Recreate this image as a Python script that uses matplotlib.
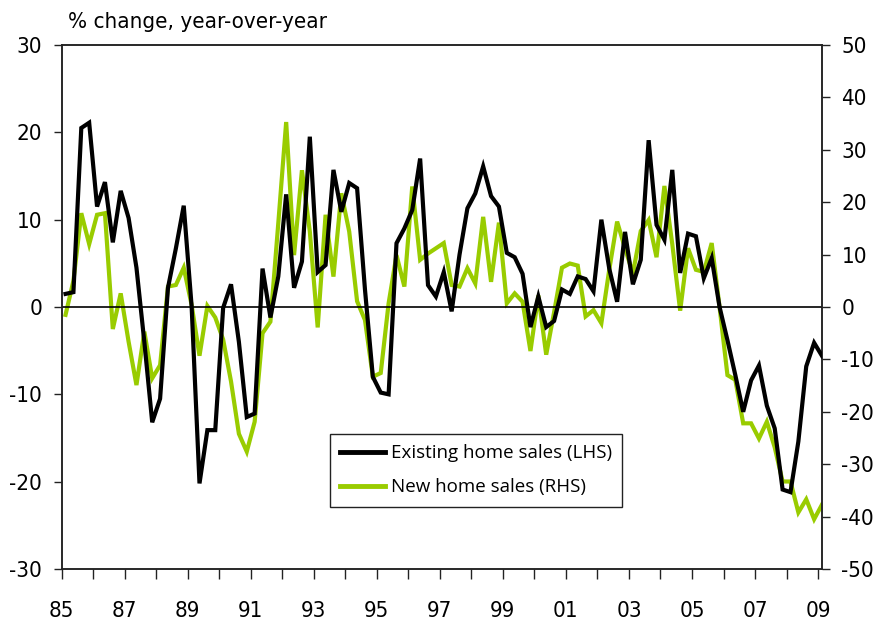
import matplotlib
matplotlib.use("Agg")
import matplotlib.pyplot as plt
import numpy as np

# ---------------- data (quarterly, 1985Q1 .. 2009Q1) ----------------
start_year = 1985
existing_sales = [
    1.5, 1.7, 20.5, 21.1, 11.5, 14.3, 7.4, 13.3, 10.2, 4.5,
    -4.0, -13.2, -10.5, 2.2, 6.7, 11.6, 0.1, -20.2, -14.1, -14.1,
    -0.1, 2.6, -4.0, -12.6, -12.2, 4.4, -1.2, 3.5, 12.9, 2.2,
    5.2, 19.5, 4.0, 4.8, 15.7, 10.9, 14.2, 13.6, 2.0, -8.0,
    -9.8, -10.0, 7.3, 9.0, 11.1, 17.0, 2.5, 1.2, 4.0, -0.5,
    6.0, 11.3, 13.0, 16.1, 12.7, 11.5, 6.2, 5.7, 3.8, -2.3,
    1.2, -2.3, -1.6, 2.0, 1.5, 3.5, 3.2, 1.8, 10.0, 4.4,
    0.6, 8.6, 2.6, 5.4, 19.1, 9.4, 7.7, 15.7, 3.9, 8.4,
    8.1, 3.3, 5.6, 0.0, -3.8, -7.8, -12.0, -8.4, -6.7, -11.3,
    -13.9, -20.9, -21.2, -15.4, -6.8, -4.1, -5.6,
]
new_sales = [
    -1.5, 5.0, 17.9, 12.0, 17.6, 17.9, -4.2, 2.6, -6.6, -14.9,
    -4.7, -13.6, -11.1, 3.9, 4.2, 7.5, 0.4, -9.3, 0.2, -2.0,
    -6.2, -14.2, -24.2, -27.6, -21.9, -5.0, -2.8, 16.0, 35.3, 9.9,
    26.1, 14.4, -3.9, 17.6, 5.8, 21.7, 14.4, 1.1, -2.5, -13.3,
    -12.6, 0.7, 9.9, 3.9, 23.0, 9.0, 10.2, 11.2, 12.2, 4.2,
    3.9, 7.4, 4.5, 17.2, 4.8, 16.1, 0.7, 2.6, 1.0, -8.4,
    2.2, -9.1, -1.0, 7.5, 8.3, 7.9, -1.8, -0.6, -3.1, 7.1,
    16.3, 11.2, 6.4, 14.5, 16.6, 9.5, 23.1, 12.0, -0.7, 11.2,
    7.1, 6.7, 12.2, 0.0, -13.0, -13.9, -22.2, -22.2, -25.1, -21.9,
    -26.8, -33.3, -33.3, -39.2, -36.7, -40.5, -37.7,
]
year_ticks = list(range(1985, 2010))
year_labels = ["85", "87", "89", "91", "93", "95", "97", "99",
               "01", "03", "05", "07", "09"]
left_ticks = [-30, -20, -10, 0, 10, 20, 30]
right_ticks = [-50, -40, -30, -20, -10, 0, 10, 20, 30, 40, 50]
series_names = ["Existing home sales (LHS)", "New home sales (RHS)"]
unit_label = "% change, year-over-year"

# ---------------- fonts ----------------
NUM_FAMILY = ["DejaVu Sans"]
NUM_STRETCH = "condensed"
leg_font = ["Open Sans", "DejaVu Sans"]

BLACK = "#000000"
GREEN = "#99CC00"

t = start_year + (np.arange(len(existing_sales)) + 0.5) / 4.0

fig = plt.figure(figsize=(8.73, 6.26), dpi=100)
W, H = 873, 626
ax_l, ax_r, ax_t, ax_b = 61.6, 822, 45, 569
ax = fig.add_axes([ax_l / W, 1 - ax_b / H, (ax_r - ax_l) / W, (ax_b - ax_t) / H])
ax2 = ax.twinx()

ax.axhline(0, color=BLACK, lw=1.2, zorder=1)
l1, = ax.plot(t, existing_sales, color=BLACK, lw=3.0, solid_joinstyle="miter", zorder=3)
l2, = ax2.plot(t, new_sales, color=GREEN, lw=3.0, solid_joinstyle="miter", zorder=2)

ax.set_zorder(ax2.get_zorder() + 1)
ax.patch.set_visible(False)

ax.set_xlim(start_year, start_year + len(existing_sales) / 4.0 - 0.125)
ax.set_ylim(-30, 30)
ax2.set_ylim(-50, 50)

ax.set_xticks(year_ticks)
ax.set_xticklabels([year_labels[(y - 1985) // 2] if (y - 1985) % 2 == 0 else "" for y in year_ticks])
ax.set_yticks(left_ticks)
ax.set_yticklabels([str(v) for v in left_ticks])
ax2.set_yticks(right_ticks)
ax2.set_yticklabels([str(v) for v in right_ticks])

for a in (ax, ax2):
    for s in a.spines.values():
        s.set_linewidth(1.1)
        s.set_color("#222222")
ax.tick_params(axis="x", direction="out", length=7, width=1.0, pad=16, labelsize=16, color="#222222")
ax.tick_params(axis="y", direction="out", length=6, width=1.0, pad=8, labelsize=16, color="#222222")
ax2.tick_params(axis="y", direction="out", length=6, width=1.0, pad=8, labelsize=16, color="#222222")
for lab in ax.get_xticklabels() + ax.get_yticklabels() + ax2.get_yticklabels():
    lab.set_family(NUM_FAMILY)
    lab.set_stretch(NUM_STRETCH)

fig.text(68 / W, 1 - 22 / H, unit_label, ha="left", va="center", fontsize=16,
         family=NUM_FAMILY, stretch=NUM_STRETCH)

leg = ax.legend([l1, l2], series_names, loc="upper left",
                bbox_to_anchor=((330 - ax_l) / (ax_r - ax_l), 1 - (434 - ax_t) / (ax_b - ax_t)),
                frameon=True, fancybox=False, edgecolor="#222222", framealpha=1,
                prop={"family": leg_font, "size": 13.5}, handlelength=2.4, handletextpad=0.3,
                borderpad=0.55, labelspacing=0.85, borderaxespad=0)
leg.get_frame().set_linewidth(1.0)
for h in leg.get_lines():
    h.set_linewidth(3.5)

fig.savefig("out.png", dpi=100)
